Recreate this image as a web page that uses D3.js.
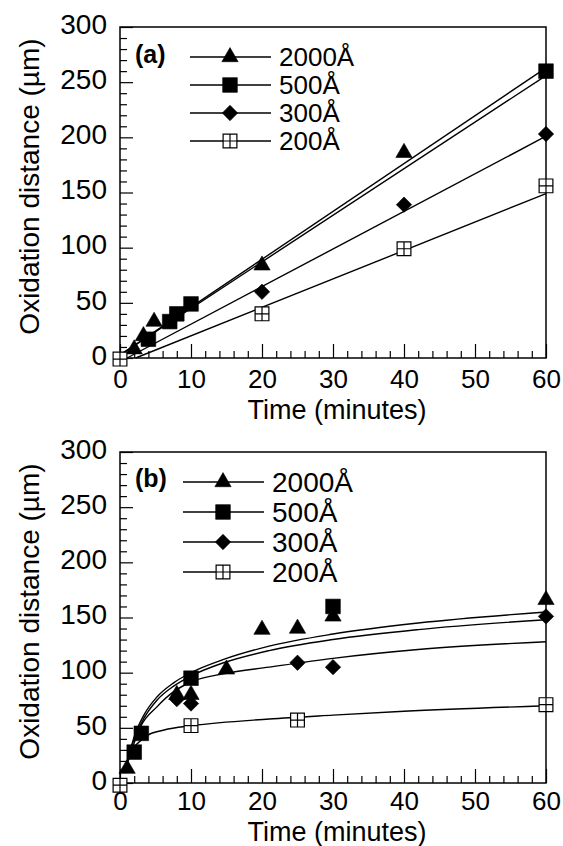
<!DOCTYPE html>
<html>
<head>
<meta charset="utf-8">
<script src="https://cdn.jsdelivr.net/npm/d3@7"></script>
<style>
  body { margin: 0; background: #fff; }
  text { font-family: "Liberation Sans", Arial, Helvetica, sans-serif; fill: #000; }
</style>
</head>
<body>
<div id="chart"></div>
<script>
// series labels and axis ticks
const seriesNames = ["2000Å", "500Å", "300Å", "200Å"];
const xTicks = [0, 10, 20, 30, 40, 50, 60];
const yTicks = [0, 50, 100, 150, 200, 250, 300];

// panel (a): measured points [time, distance]
const a2000 = [[2, 8], [3.3, 20], [4.8, 33], [20, 84], [40, 186]];
const a500 = [[4, 17], [7, 33], [8, 40], [10, 49], [60, 260]];
const a300 = [[20, 60], [40, 139], [60, 203]];
const a200 = [[0, -1], [20, 40], [40, 99], [60, 156]];

// panel (a): straight fit lines (end points)
const aFit2000 = [[0.3, 4], [60, 263]];
const aFit500 = [[0.3, 4], [60, 256]];
const aFit300 = [[1, 0], [60, 201]];
const aFit200 = [[2.2, 0], [60, 149]];

// panel (b): measured points
const b2000 = [[1, 13], [8, 80], [10, 80], [15, 103], [20, 139], [25, 140], [30, 151], [60, 166]];
const b500 = [[2, 28], [3, 45], [10, 95], [30, 160]];
const b300 = [[8, 76], [10, 72], [25, 109], [30, 105], [60, 151]];
const b200 = [[0, -2], [10, 52], [25, 57], [60, 71]];

// panel (b): fitted curves
const bFit2000 = [[0.8, 15], [1.5, 31], [2, 42], [3.4, 62], [5.2, 78], [7.6, 91], [10, 100], [14.6, 112], [21, 124], [30, 135], [42, 145], [60, 155]];
const bFit500 = [[0.8, 15], [1.5, 30], [2, 40], [3.4, 59], [5.2, 75], [7.6, 88], [10, 97], [14.6, 109], [21, 120], [30, 130], [42, 139], [60, 148]];
const bFit300 = [[1, 17], [1.5, 27], [2.9, 51], [5.2, 69], [7.6, 83], [10.2, 92], [14.6, 99], [21, 105], [30, 113], [42, 121], [60, 128]];
const bFit200 = [[2, 33], [3.8, 43], [6.2, 48], [10.2, 52], [21, 58], [30, 61.5], [40, 65], [60, 70]];

const width = 563,
  height = 846;

const svg = d3.select("#chart")
  .append("svg")
  .attr("width", width)
  .attr("height", height);

// open square with a cross inside
const symbolCrossBox = {
  draw(context, size) {
    const r = Math.sqrt(size) / 2;
    context.rect(-r, -r, 2 * r, 2 * r);
    context.moveTo(0, -r); context.lineTo(0, r);
    context.moveTo(-r, 0); context.lineTo(r, 0);
  }
};

const markers = [
  { type: d3.symbolTriangle, size: 115, fill: "#000", rotate: 0 },
  { type: d3.symbolSquare, size: 215, fill: "#000", rotate: 0 },
  { type: d3.symbolSquare, size: 118, fill: "#000", rotate: 45 },
  { type: symbolCrossBox, size: 190, fill: "#fff", rotate: 0 }
];

function drawMarker(g, m, cx, cy) {
  g.append("path")
    .attr("d", d3.symbol().type(m.type).size(m.size)())
    .attr("transform", `translate(${cx},${cy}) rotate(${m.rotate})`)
    .attr("fill", m.fill)
    .attr("stroke", "#000")
    .attr("stroke-width", m.fill === "#fff" ? 1.2 : 0.6);
}

function drawPanel(p) {
  const g = svg.append("g");

  const x = d3.scaleLinear().domain([0, 60]).range([120, 546]);
  const y = d3.scaleLinear().domain([0, 300]).range([p.bottom, p.top]);

  // frame
  g.append("rect")
    .attr("x", x(0))
    .attr("y", y(300))
    .attr("width", x(60) - x(0))
    .attr("height", y(0) - y(300))
    .attr("fill", "none")
    .attr("stroke", "#000")
    .attr("stroke-width", 1.5);

  // x axis, ticks pointing inwards
  g.append("g")
    .attr("transform", `translate(0,${y(0)})`)
    .call(d3.axisBottom(x).tickValues(d3.range(0, 61, 2).filter(d => d % 10)).tickSize(-7).tickSizeOuter(0).tickFormat(""))
    .call(a => a.select(".domain").remove())
    .selectAll("line").attr("stroke-width", 1.2);

  g.append("g")
    .attr("transform", `translate(0,${y(0)})`)
    .call(d3.axisBottom(x).tickValues(xTicks).tickSize(-14).tickSizeOuter(0).tickPadding(p.xPad))
    .call(a => a.select(".domain").remove())
    .attr("font-size", 26)
    .attr("font-family", null)
    .call(a => a.selectAll("line").attr("stroke-width", 1.2));

  // y axis
  g.append("g")
    .attr("transform", `translate(${x(0)},0)`)
    .call(d3.axisLeft(y).tickValues(d3.range(0, 301, 10).filter(d => d % 50)).tickSize(-7).tickSizeOuter(0).tickFormat(""))
    .call(a => a.select(".domain").remove())
    .selectAll("line").attr("stroke-width", 1.2);

  g.append("g")
    .attr("transform", `translate(${x(0)},0)`)
    .call(d3.axisLeft(y).tickValues(yTicks).tickSize(-13).tickSizeOuter(0).tickPadding(13))
    .call(a => a.select(".domain").remove())
    .attr("font-size", 28)
    .attr("font-family", null)
    .call(a => a.selectAll("line").attr("stroke-width", 1.2))
    .call(a => a.selectAll("text").attr("dy", "0.22em"));

  // axis titles
  g.append("text")
    .attr("text-anchor", "middle")
    .attr("x", 337)
    .attr("y", p.bottom + p.titleDy)
    .attr("font-size", 27)
    .text("Time (minutes)");

  g.append("text")
    .attr("text-anchor", "middle")
    .attr("transform", `translate(39,${(p.top + p.bottom) / 2 - 6}) rotate(-90)`)
    .attr("font-size", 28)
    .text("Oxidation distance (µm)");

  // fit lines
  const line = d3.line()
    .x(d => x(d[0]))
    .y(d => y(d[1]))
    .curve(p.curve);

  p.fits.forEach(f => {
    g.append("path")
      .datum(f)
      .attr("d", line)
      .attr("fill", "none")
      .attr("stroke", "#000")
      .attr("stroke-width", 1.4);
  });

  // data markers
  p.points.forEach((pts, i) => {
    pts.forEach(d => drawMarker(g, markers[i], x(d[0]), y(d[1])));
  });

  // panel tag
  g.append("text")
    .attr("x", 135)
    .attr("y", p.top + p.tagDy)
    .attr("font-size", 25)
    .attr("font-weight", "bold")
    .text(p.tag);

  // legend
  seriesNames.forEach((name, i) => {
    const ly = p.legY + i * p.legStep;
    g.append("line")
      .attr("x1", p.legX).attr("x2", p.legX + 81)
      .attr("y1", ly).attr("y2", ly)
      .attr("stroke", "#000")
      .attr("stroke-width", 1.4);
    drawMarker(g, markers[i], p.legX + 40, ly);
    g.append("text")
      .attr("x", p.legX + 89)
      .attr("y", ly + p.legFont * 0.36)
      .attr("font-size", p.legFont)
      .text(name);
  });
}

drawPanel({
  top: 27, bottom: 358, tag: "(a)", tagDy: 36, titleDy: 61, xPad: 12,
  points: [a2000, a500, a300, a200],
  fits: [aFit2000, aFit500, aFit300, aFit200],
  curve: d3.curveLinear,
  legX: 190, legY: 57, legStep: 28, legFont: 26
});

drawPanel({
  top: 452, bottom: 783, tag: "(b)", tagDy: 35, titleDy: 58, xPad: 9,
  points: [b2000, b500, b300, b200],
  fits: [bFit2000, bFit500, bFit300, bFit200],
  curve: d3.curveMonotoneX,
  legX: 183, legY: 482, legStep: 30, legFont: 28
});
</script>
</body>
</html>
